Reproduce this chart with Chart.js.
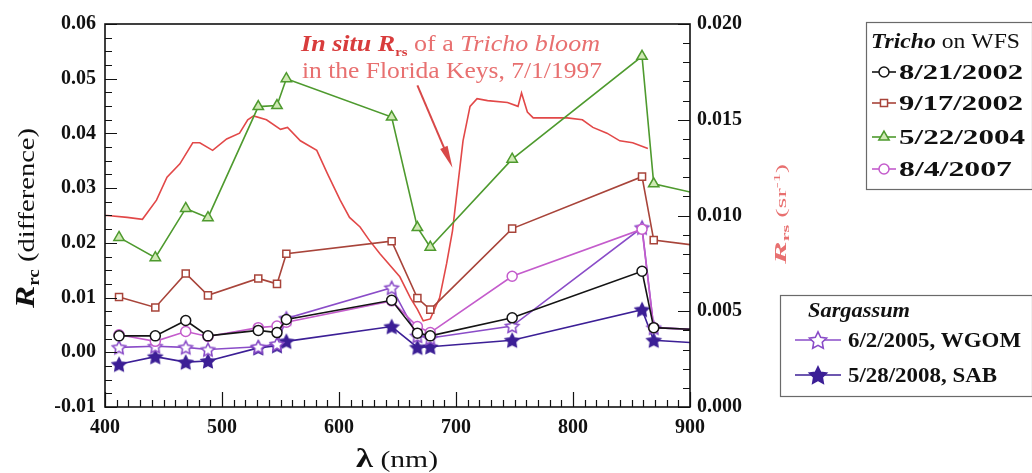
<!DOCTYPE html>
<html lang="en">
<head>
<meta charset="UTF-8">
<title>Rrc difference spectra</title>
<script src="https://cdn.jsdelivr.net/npm/chart.js@4.4.0/dist/chart.umd.min.js"></script>
<style>
    html, body { margin: 0; padding: 0; background: #fff; overflow: hidden; }
    #chart { display: block; }
</style>
</head>
<body>
<canvas id="chart" width="1032" height="473"></canvas>
<script>
    // MODIS bands (nm); last point lies past the plotted range, only its slope shows
    const wavelengths = [412, 443, 469, 488, 531, 547, 555, 645, 667, 678, 748, 859, 869, 1240];

    // Tricho on WFS
    const aug21_2002 = [0.0030, 0.0030, 0.0058, 0.0030, 0.0040, 0.0036, 0.0060, 0.0095, 0.0035, 0.0030, 0.0063, 0.0148, 0.0045, 0.0010];
    const sep17_2002 = [0.0101, 0.0082, 0.0144, 0.0104, 0.0135, 0.0125, 0.0180, 0.0203, 0.0099, 0.0078, 0.0226, 0.0321, 0.0205, 0.0107];
    const may22_2004 = [0.0210, 0.0173, 0.0263, 0.0246, 0.0449, 0.0451, 0.0500, 0.0430, 0.0228, 0.0192, 0.0353, 0.0541, 0.0308, 0.0128];
    const aug4_2007  = [0.0032, 0.0020, 0.0038, 0.0029, 0.0045, 0.0048, 0.0055, 0.0094, 0.0047, 0.0036, 0.0139, 0.0225, 0.0045, 0.0010];

    // Sargassum
    const jun2_2005  = [0.0009, 0.0011, 0.0009, 0.0005, 0.0010, 0.0015, 0.0062, 0.0118, 0.0030, 0.0026, 0.0048, 0.0228, 0.0045, 0.0009];
    const may28_2008 = [-0.0022, -0.0008, -0.0018, -0.0016, 0.0008, 0.0012, 0.0020, 0.0047, 0.0009, 0.0010, 0.0022, 0.0078, 0.0022, -0.0026];

    // in situ Rrs of a Tricho bloom, Florida Keys 7/1/1997 (right axis, sr^-1)
    const redWl  = [400, 402, 419, 432, 444, 453, 464, 475, 481, 492, 504, 515, 522, 527, 538, 550, 556, 567, 581, 590,
                    601, 609, 618, 626, 635, 652, 661, 667, 672, 678, 686, 692, 697, 701, 706, 712, 718, 727, 744, 753,
                    756, 761, 766, 783, 795, 808, 817, 829, 840, 851, 864];
    const redRrs = [0.0100, 0.0100, 0.0099, 0.0098, 0.0108, 0.0120, 0.0127, 0.0138, 0.0138, 0.0134, 0.0140, 0.0143, 0.0150, 0.0152, 0.0150, 0.0145, 0.0146, 0.0139, 0.0134, 0.0122,
                    0.0108, 0.0099, 0.0094, 0.0087, 0.0080, 0.0068, 0.0057, 0.0051, 0.0045, 0.0046, 0.0057, 0.0075, 0.0092, 0.0113, 0.0139, 0.0157, 0.0161, 0.0160, 0.0159, 0.0157,
                    0.0164, 0.0154, 0.0151, 0.0151, 0.0151, 0.0150, 0.0146, 0.0143, 0.0139, 0.0138, 0.0135];

    const trichoLabels = ['8/21/2002', '9/17/2002', '5/22/2004', '8/4/2007'];
    const sargLabels = ['6/2/2005, WGOM', '5/28/2008, SAB'];

    const SERIF = "'Liberation Serif', 'Times New Roman', serif";
    Chart.defaults.font.family = SERIF;

    function starImage(r, fill, stroke) {
        const c = document.createElement('canvas');
        const s = Math.ceil(2 * r + 4);
        c.width = s; c.height = s;
        const g = c.getContext('2d');
        g.translate(s / 2, s / 2 + r * 0.1);
        g.beginPath();
        for (let i = 0; i < 10; i++) {
            const rr = i % 2 ? r * 0.5 : r;
            const a = -Math.PI / 2 + i * Math.PI / 5;
            g.lineTo(rr * Math.cos(a), rr * Math.sin(a));
        }
        g.closePath();
        g.fillStyle = fill; g.fill();
        g.lineWidth = 1.6; g.strokeStyle = stroke; g.stroke();
        return c;
    }

    const openStar = starImage(7, '#ffffff', '#8a4cc8');
    const fullStar = starImage(7, '#3c1f96', '#3c1f96');
    const openStarBig = starImage(9, '#ffffff', '#8a4cc8');
    const fullStarBig = starImage(9, '#3c1f96', '#3c1f96');

    function series(label, values, color, style, fill, radius) {
        return {
            label: label,
            data: values.map((v, i) => ({ x: wavelengths[i], y: v })),
            borderColor: color,
            borderWidth: 1.6,
            pointStyle: style,
            pointRadius: radius,
            pointBorderColor: color,
            pointBackgroundColor: fill,
            pointBorderWidth: 1.5,
            yAxisID: 'y',
            clip: 0,
            tension: 0
        };
    }

    const datasets = [
        series(trichoLabels[0], aug21_2002, '#141414', 'circle', '#ffffff', 5),
        series(trichoLabels[1], sep17_2002, '#a8443a', 'rect', '#ffffff', 5),
        series(trichoLabels[2], may22_2004, '#4e9a2e', 'triangle', '#cfe9b4', 6),
        series(trichoLabels[3], aug4_2007, '#c45ccc', 'circle', '#ffffff', 5),
        series(sargLabels[0], jun2_2005, '#8a4cc8', openStar, '#ffffff', 6),
        series(sargLabels[1], may28_2008, '#3c1f96', fullStar, '#3c1f96', 6),
        {
            label: 'in situ Rrs',
            data: redWl.map((x, i) => ({ x: x, y: redRrs[i] })),
            borderColor: '#e24848',
            borderWidth: 1.6,
            pointRadius: 0,
            yAxisID: 'y2',
            clip: 0,
            tension: 0
        }
    ];

    // text made of styled runs, squeezed/stretched to a width, optionally rotated
    function drawRuns(ctx, parts, x, y, width, angle) {
        ctx.save();
        ctx.translate(x, y);
        if (angle) ctx.rotate(angle);
        let w = 0;
        parts.forEach(p => { ctx.font = p.f; w += ctx.measureText(p.t).width; });
        if (width) ctx.scale(width / w, 1);
        ctx.textBaseline = 'alphabetic';
        ctx.textAlign = 'left';
        let cx = 0;
        parts.forEach(p => {
            ctx.font = p.f;
            ctx.fillStyle = p.c || '#111';
            ctx.fillText(p.t, cx, p.dy || 0);
            cx += ctx.measureText(p.t).width;
        });
        ctx.restore();
    }

    function legendSymbol(ctx, ds, x0, x1, y, style) {
        ctx.save();
        ctx.strokeStyle = ds.borderColor;
        ctx.lineWidth = 1.6;
        ctx.beginPath(); ctx.moveTo(x0, y); ctx.lineTo(x1, y); ctx.stroke();
        ctx.fillStyle = ds.pointBackgroundColor;
        ctx.strokeStyle = ds.pointBorderColor;
        ctx.lineWidth = 1.5;
        Chart.helpers.drawPoint(ctx, { pointStyle: style || ds.pointStyle, radius: ds.pointRadius, rotation: 0, borderWidth: 1.5 }, (x0 + x1) / 2, y);
        ctx.restore();
    }

    const decorations = {
        id: 'decorations',
        afterDatasetsDraw(chart) {
            const { ctx, chartArea: a, scales } = chart;
            ctx.save();
            ctx.strokeStyle = '#111';
            ctx.lineWidth = 1.2;
            ctx.beginPath();
            for (let k = -4; k <= 24; k++) {
                const y = Math.round(scales.y.getPixelForValue(k * 0.0025)) + 0.5;
                const len = k % 4 === 0 ? 12 : 7;
                ctx.moveTo(a.left, y); ctx.lineTo(a.left + len, y);
            }
            for (let k = 0; k <= 20; k++) {
                const y = Math.round(scales.y2.getPixelForValue(k * 0.001)) + 0.5;
                const len = k % 5 === 0 ? 12 : 7;
                ctx.moveTo(a.right, y); ctx.lineTo(a.right - len, y);
            }
            for (let nm = 400; nm <= 900; nm += 10) {
                const x = Math.round(scales.x.getPixelForValue(nm)) + 0.5;
                const len = nm % 100 === 0 ? 15 : 7;
                ctx.moveTo(x, a.bottom); ctx.lineTo(x, a.bottom - len);
            }
            ctx.stroke();
            ctx.lineWidth = 1.6;
            ctx.strokeRect(a.left, a.top, a.right - a.left, a.bottom - a.top);
            ctx.restore();
        },
        afterDraw(chart) {
            const { ctx, scales } = chart;
            const red = '#d83c3c', pale = '#e87070';

            // arrow from the note to the red curve
            const x0 = scales.x.getPixelForValue(667), y0 = scales.y2.getPixelForValue(0.0168);
            const x1 = scales.x.getPixelForValue(697), y1 = scales.y2.getPixelForValue(0.0125);
            const ang = Math.atan2(y1 - y0, x1 - x0);
            ctx.save();
            ctx.strokeStyle = '#d84848'; ctx.fillStyle = '#d84848'; ctx.lineWidth = 2;
            ctx.beginPath(); ctx.moveTo(x0, y0); ctx.lineTo(x1 - 10 * Math.cos(ang), y1 - 10 * Math.sin(ang)); ctx.stroke();
            ctx.beginPath();
            ctx.moveTo(x1, y1);
            ctx.lineTo(x1 - 22 * Math.cos(ang) + 4 * Math.sin(ang), y1 - 22 * Math.sin(ang) - 4 * Math.cos(ang));
            ctx.lineTo(x1 - 22 * Math.cos(ang) - 4 * Math.sin(ang), y1 - 22 * Math.sin(ang) + 4 * Math.cos(ang));
            ctx.closePath(); ctx.fill();
            ctx.restore();

            // note
            drawRuns(ctx, [
                { t: 'In situ R', f: 'italic bold 23px ' + SERIF, c: red },
                { t: 'rs', f: 'bold 13px ' + SERIF, c: red, dy: 5 },
                { t: ' of a ', f: '23px ' + SERIF, c: pale },
                { t: 'Tricho bloom', f: 'italic 23px ' + SERIF, c: pale }
            ], 301, 51, 299);
            drawRuns(ctx, [{ t: 'in the Florida Keys, 7/1/1997', f: '23px ' + SERIF, c: pale }], 302, 78, 300);

            // axis titles
            drawRuns(ctx, [
                { t: 'R', f: 'italic bold 28px ' + SERIF },
                { t: 'rc', f: 'bold 16px ' + SERIF, dy: 5 },
                { t: ' (difference)', f: '24px ' + SERIF }
            ], 34, 308, 180, -Math.PI / 2);
            drawRuns(ctx, [
                { t: 'R', f: 'italic bold 17px ' + SERIF, c: pale },
                { t: 'rs', f: 'bold 10px ' + SERIF, c: pale, dy: 3 },
                { t: ' (sr', f: '14px ' + SERIF, c: pale },
                { t: '-1', f: '9px ' + SERIF, c: pale, dy: -6 },
                { t: ')', f: '14px ' + SERIF, c: pale }
            ], 786, 264, 100, -Math.PI / 2);
            drawRuns(ctx, [
                { t: '\u03bb', f: 'bold 28px ' + SERIF },
                { t: ' (nm)', f: '24px ' + SERIF }
            ], 356, 467, 82);

            // legend boxes
            ctx.save();
            ctx.strokeStyle = '#6a6a6a'; ctx.lineWidth = 1.2;
            ctx.strokeRect(866.5, 22.5, 166, 167);
            ctx.strokeRect(780.5, 295.5, 252, 101);
            ctx.restore();

            // legend: Tricho on WFS
            drawRuns(ctx, [
                { t: 'Tricho', f: 'italic bold 22px ' + SERIF },
                { t: ' on WFS', f: '22px ' + SERIF }
            ], 871, 48, 149);
            const tY = [72, 103, 137, 169];
            const tW = [124, 124, 126, 113];
            trichoLabels.forEach((lab, i) => {
                legendSymbol(ctx, chart.data.datasets[i], 872, 896, tY[i]);
                drawRuns(ctx, [{ t: lab, f: 'bold 22px ' + SERIF }], 899, tY[i] + 7, tW[i]);
            });

            // legend: Sargassum
            drawRuns(ctx, [{ t: 'Sargassum', f: 'italic bold 22px ' + SERIF }], 808, 317, 102);
            const sY = [340, 375];
            const sW = [173, 149];
            const bigStars = [openStarBig, fullStarBig];
            sargLabels.forEach((lab, i) => {
                legendSymbol(ctx, chart.data.datasets[4 + i], 795, 841, sY[i], bigStars[i]);
                drawRuns(ctx, [{ t: lab, f: 'bold 22px ' + SERIF }], 848, sY[i] + 7, sW[i]);
            });
        }
    };

    const tickFont = { family: SERIF, weight: 'bold', size: 20 };
    const fmt = (v, d) => (Math.abs(v) < 1e-9 ? 0 : v).toFixed(d);

    new Chart(document.getElementById('chart'), {
        type: 'line',
        data: { datasets: datasets },
        options: {
            responsive: false,
            animation: false,
            layout: { padding: { top: 24, left: 0, right: 0, bottom: 0 } },
            plugins: { legend: { display: false }, tooltip: { enabled: false } },
            scales: {
                x: {
                    type: 'linear', position: 'bottom', min: 400, max: 900,
                    grid: { display: false, drawTicks: false },
                    border: { display: false },
                    ticks: { stepSize: 100, font: tickFont, color: '#111', padding: 9, maxRotation: 0 },
                    afterFit(scale) { scale.height = 66; }
                },
                y: {
                    type: 'linear', position: 'left', min: -0.01, max: 0.06,
                    grid: { display: false, drawTicks: false },
                    border: { display: false },
                    ticks: { stepSize: 0.01, font: tickFont, color: '#111', padding: 9, callback: v => fmt(v, 2) },
                    afterFit(scale) { scale.width = 105; }
                },
                y2: {
                    type: 'linear', position: 'right', min: 0, max: 0.02,
                    grid: { display: false, drawTicks: false },
                    border: { display: false },
                    ticks: { stepSize: 0.005, font: tickFont, color: '#111', padding: 7, callback: v => fmt(v, 3) },
                    afterFit(scale) { scale.width = 342; }
                }
            }
        },
        plugins: [decorations]
    });
</script>
</body>
</html>
